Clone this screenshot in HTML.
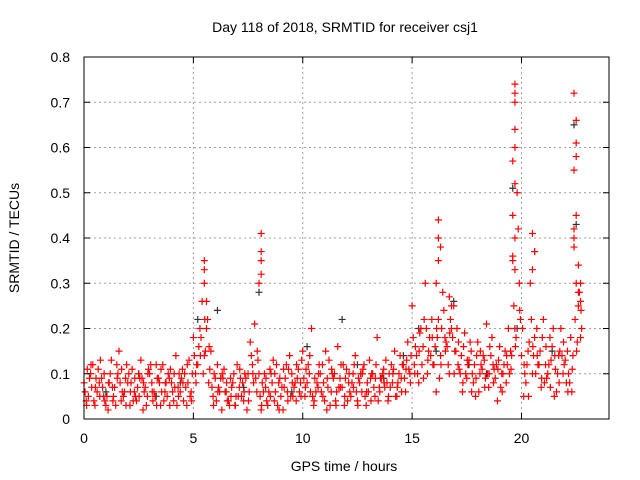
<!DOCTYPE html>
<html><head><meta charset="utf-8"><style>
body{margin:0;background:#fff;}
svg{display:block;font-family:"Liberation Sans",sans-serif;}
</style></head><body>
<svg id="chart" width="640" height="480">
<text x="345" y="32" text-anchor="middle" font-size="14">Day 118 of 2018, SRMTID for receiver csj1</text>
<text x="344" y="471" text-anchor="middle" font-size="14">GPS time / hours</text>
<text transform="translate(19,238) rotate(-90)" text-anchor="middle" font-size="14">SRMTID / TECUs</text>
<g id="grid"></g><g id="marks"></g><g id="axes"></g>
</svg>
<script>
const xTicks=[0,5,10,15,20];
const yTicks=[0,0.1,0.2,0.3,0.4,0.5,0.6,0.7,0.8];
const yTickLabels=["0","0.1","0.2","0.3","0.4","0.5","0.6","0.7","0.8"];
const redA=[0.08,0.05,0.12,0.06,0.09,0.03,0.1,0.07,0.15,0.05,0.08,0.11,0.04,0.13,0.07,0.1,0.06,0.09,0.12,0.05,0.08,0.14,0.06,0.1,0.13,
0.18,0.12,0.26,0.2,0.15,0.09,0.06,0.11,0.04,0.08,0.12,0.05,0.09,0.17,0.21,0.1,0.06,0.03,0.08,0.12,0.05,0.09,0.14,0.07,0.11,
0.15,0.08,0.2,0.06,0.1,0.04,0.13,0.09,0.16,0.07,0.11,0.05,0.14,0.08,0.12,0.06,0.1,0.18,0.09,0.13,0.07,0.15,0.1,0.12,0.17,
0.25,0.14,0.2,0.3,0.18,0.12,0.22,0.28,0.16,0.2,0.15,0.1,0.19,0.13,0.08,0.17,0.11,0.21,0.14,0.09,0.16,0.12,0.2,0.35,0.5,
0.14,0.08,0.3,0.18,0.12,0.22,0.1,0.16,0.06,0.2,0.13,0.08,0.4,0.25];
const redB=[0.04,0.1,0.03,0.08,0.05,0.02,0.07,0.12,0.04,0.09,0.03,0.06,0.1,0.02,0.05,0.08,0.12,0.03,0.06,0.09,0.04,0.07,0.11,0.03,0.06,
0.1,0.2,0.14,0.08,0.05,0.12,0.02,0.06,0.09,0.03,0.07,0.04,0.1,0.12,0.06,0.02,0.07,0.11,0.04,0.08,0.02,0.06,0.1,0.04,0.08,
0.05,0.1,0.03,0.07,0.12,0.02,0.06,0.04,0.09,0.03,0.08,0.1,0.04,0.06,0.03,0.09,0.05,0.07,0.11,0.04,0.08,0.05,0.09,0.06,0.1,
0.12,0.08,0.16,0.1,0.22,0.06,0.14,0.18,0.1,0.25,0.12,0.06,0.09,0.15,0.05,0.1,0.13,0.07,0.12,0.04,0.1,0.08,0.15,0.2,0.3,
0.05,0.15,0.1,0.2,0.07,0.12,0.18,0.05,0.14,0.1,0.15,0.06,0.3,0.18];
const redC=[0.06,0.09,0.04,0.11,0.07,0.05,0.13,0.03,0.08,0.06,0.1,0.04,0.07,0.09,0.03,0.12,0.05,0.08,0.04,0.1,0.06,0.03,0.09,0.07,0.05,
0.14,0.16,0.1,0.22,0.07,0.04,0.09,0.06,0.03,0.1,0.05,0.08,0.02,0.14,0.09,0.05,0.1,0.06,0.13,0.03,0.07,0.12,0.05,0.08,0.06,
0.09,0.12,0.05,0.08,0.06,0.15,0.03,0.1,0.07,0.12,0.04,0.08,0.06,0.1,0.05,0.13,0.07,0.04,0.1,0.08,0.12,0.05,0.14,0.09,0.11,
0.18,0.1,0.12,0.2,0.14,0.16,0.09,0.24,0.12,0.18,0.2,0.14,0.1,0.17,0.12,0.06,0.14,0.1,0.18,0.12,0.07,0.15,0.1,0.25,0.42,
0.2,0.12,0.22,0.1,0.15,0.08,0.12,0.2,0.1,0.14,0.08,0.18,0.22,0.28];
const redD=[0.11,0.07,0.09,0.13,0.04,0.08,0.05,0.1,0.06,0.12,0.08,0.05,0.09,0.06,0.11,0.04,0.09,0.06,0.08,0.11,0.07,0.1,0.04,0.08,0.1,
0.12,0.18,0.15,0.11,0.1,0.07,0.09,0.04,0.07,0.05,0.09,0.1,0.06,0.08,0.13,0.08,0.04,0.1,0.06,0.09,0.07,0.11,0.05,0.09,0.13,
0.11,0.06,0.09,0.12,0.08,0.07,0.1,0.06,0.12,0.09,0.06,0.12,0.09,0.11,0.08,0.1,0.12,0.09,0.07,0.1,0.11,0.08,0.12,0.13,0.14,
0.16,0.19,0.22,0.15,0.12,0.18,0.2,0.17,0.22,0.15,0.11,0.16,0.12,0.1,0.14,0.12,0.09,0.16,0.11,0.13,0.1,0.12,0.14,0.18,0.22,
0.1,0.17,0.14,0.12,0.18,0.09,0.13,0.11,0.15,0.12,0.1,0.14,0.17,0.2];
const redE=[0.03,0.12,0.07,0.05,0.1,0.08,0.04,0.09,0.11,0.03,0.06,0.09,0.05,0.08,0.1,0.06,0.03,0.11,0.08,0.03,0.1,0.05,0.08,0.12,0.04,
0.08,0.14,0.22,0.16,0.03,0.06,0.1,0.08,0.05,0.03,0.11,0.06,0.04,0.1,0.15,0.03,0.09,0.05,0.1,0.02,0.11,0.04,0.08,0.12,0.05,
0.07,0.14,0.04,0.1,0.05,0.09,0.11,0.03,0.07,0.05,0.1,0.07,0.03,0.1,0.06,0.04,0.09,0.06,0.08,0.05,0.1,0.07,0.06,0.11,0.08,
0.1,0.15,0.09,0.13,0.18,0.2,0.12,0.15,0.19,0.1,0.17,0.08,0.13,0.06,0.09,0.15,0.07,0.1,0.08,0.11,0.06,0.14,0.11,0.16,0.24,
0.12,0.05,0.16,0.14,0.09,0.16,0.07,0.14,0.08,0.17,0.06,0.11,0.15,0.24];
const spikeTimes=[5.5,5.5,5.5,5.6,8.1,8.1,8.1,8.1,8.0,16.2,16.2,16.2,16.1,16.3,16.7,16.8,19.7,19.7,19.7,19.7,19.7,19.6,19.7,19.6,19.7,19.6,19.7,20.5,20.6,20.5,22.4,22.5,22.5,22.5,22.4,22.5,22.4,22.4,22.6,22.7,22.6,22.7];
const spikeVals=[0.35,0.33,0.3,0.26,0.41,0.37,0.35,0.32,0.3,0.44,0.4,0.35,0.3,0.38,0.27,0.25,0.74,0.72,0.7,0.64,0.6,0.57,0.52,0.45,0.4,0.36,0.33,0.41,0.37,0.33,0.72,0.66,0.61,0.58,0.55,0.45,0.42,0.38,0.34,0.3,0.28,0.26];
const darkTimes=[1,2.5,3.3,4.4,5.2,6.1,7.3,8,9.5,10.2,11.8,12.5,13.7,14.6,15.3,16.1,16.9,17.6,18.4,19.6,19.8,20.6,21.4,22.4,22.5];
const darkVals=[0.06,0.1,0.05,0.08,0.22,0.24,0.07,0.28,0.06,0.16,0.22,0.12,0.09,0.14,0.2,0.15,0.26,0.12,0.1,0.51,0.2,0.37,0.15,0.65,0.43];
const step=0.2;
const X=v=>84+v*(609-84)/24;
const Y=v=>419-v*(419-57)/0.8;
const NS="http://www.w3.org/2000/svg";
function mk(tag,attrs,parent){const e=document.createElementNS(NS,tag);for(const k in attrs)e.setAttribute(k,attrs[k]);parent.appendChild(e);return e;}
const grid=document.getElementById('grid'),axes=document.getElementById('axes'),marks=document.getElementById('marks');
xTicks.forEach(t=>{
  if(t>0){const g=mk('line',{x1:X(t),x2:X(t),y1:57,y2:419,stroke:'#a0a0a0','stroke-dasharray':'2,3'},grid);
  
  }
  const tx=mk('text',{x:X(t),y:443,'text-anchor':'middle','font-size':14},axes);tx.textContent=t;
  
  
  mk('line',{x1:X(t),x2:X(t),y1:419,y2:413,stroke:'#000'},axes);
  mk('line',{x1:X(t),x2:X(t),y1:57,y2:63,stroke:'#000'},axes);
});
yTicks.forEach((t,i)=>{
  if(t>0&&t<0.8){const g=mk('line',{x1:84,x2:609,y1:Y(t),y2:Y(t),stroke:'#a0a0a0','stroke-dasharray':'2,3'},grid);
  
  }
  const tx=mk('text',{x:70,y:Y(t)+5,'text-anchor':'end','font-size':14},axes);tx.textContent=yTickLabels[i];
  
  
  mk('line',{x1:84,x2:90,y1:Y(t),y2:Y(t),stroke:'#000'},axes);
  mk('line',{x1:609,x2:603,y1:Y(t),y2:Y(t),stroke:'#000'},axes);
});
const fr=mk('rect',{x:84,y:57,width:525,height:362,fill:'none',stroke:'#000'},axes);


function plus(t,v,color,name){
  const p=mk('path',{d:`M${X(t)-3.5},${Y(v)}h7M${X(t)},${Y(v)-3.5}v7`,stroke:color,'stroke-width':1.2,fill:'none'},marks);
  
  
}
darkTimes.forEach((t,i)=>plus(t,darkVals[i],'#333','dark-point'));
redA.forEach((v,i)=>plus(i*step,v,'#ff0000','red-point'));
redB.forEach((v,i)=>plus(i*step+0.1,v,'#ff0000','red-point'));
redC.forEach((v,i)=>plus(i*step+0.05,v,'#ff0000','red-point'));
redD.forEach((v,i)=>plus(i*step+0.15,v,'#ff0000','red-point'));
redE.forEach((v,i)=>plus(i*step+0.12,v,'#ff0000','red-point'));
spikeTimes.forEach((t,i)=>plus(t,spikeVals[i],'#ff0000','red-point'));
</script>
</body></html>
